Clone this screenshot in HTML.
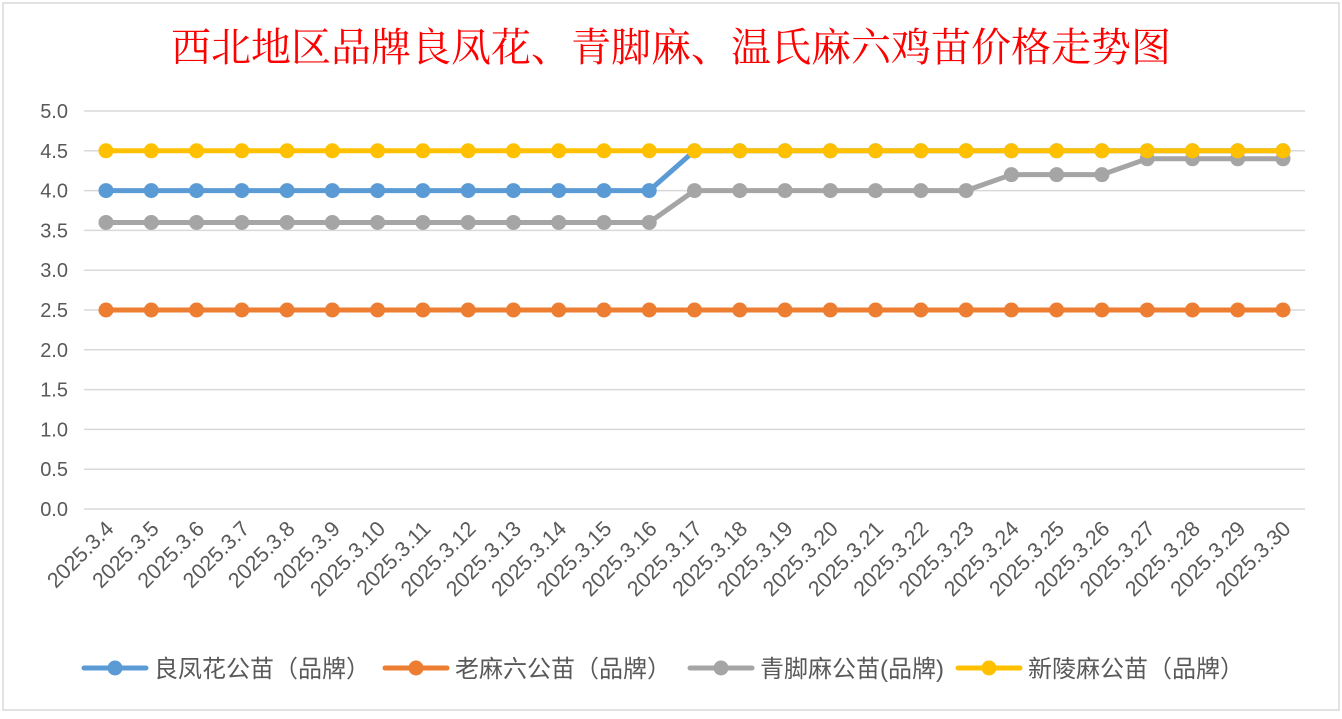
<!DOCTYPE html>
<html><head><meta charset="utf-8"><style>
body{margin:0;background:#fff;}
svg text{font-family:"Liberation Sans","Noto Sans CJK SC",sans-serif;fill:#595959;}
</style></head><body>
<svg width="1342" height="714" xmlns="http://www.w3.org/2000/svg">
<rect x="3" y="3" width="1336" height="707" fill="#fff" stroke="#d9d9d9" stroke-width="1.5"/>
<text x="671" y="61" text-anchor="middle" style="font-family:'Liberation Serif','Noto Serif CJK SC',serif;font-size:40px;fill:#ff0000">西北地区品牌良凤花、青脚麻、温氏麻六鸡苗价格走势图</text>
<g id="grid"></g><g id="yt"></g><g id="xt"></g><g id="series"></g><g id="legend"></g>
</svg>
<script>
const categories=["2025.3.4","2025.3.5","2025.3.6","2025.3.7","2025.3.8","2025.3.9","2025.3.10","2025.3.11","2025.3.12","2025.3.13","2025.3.14","2025.3.15","2025.3.16","2025.3.17","2025.3.18","2025.3.19","2025.3.20","2025.3.21","2025.3.22","2025.3.23","2025.3.24","2025.3.25","2025.3.26","2025.3.27","2025.3.28","2025.3.29","2025.3.30"];
const liangfenghua=[4,4,4,4,4,4,4,4,4,4,4,4,4,4.5,4.5,4.5,4.5,4.5,4.5,4.5,4.5,4.5,4.5,4.5,4.5,4.5,4.5];
const laomaliu=[2.5,2.5,2.5,2.5,2.5,2.5,2.5,2.5,2.5,2.5,2.5,2.5,2.5,2.5,2.5,2.5,2.5,2.5,2.5,2.5,2.5,2.5,2.5,2.5,2.5,2.5,2.5];
const qingjiaoma=[3.6,3.6,3.6,3.6,3.6,3.6,3.6,3.6,3.6,3.6,3.6,3.6,3.6,4,4,4,4,4,4,4,4.2,4.2,4.2,4.4,4.4,4.4,4.4];
const xinlingma=[4.5,4.5,4.5,4.5,4.5,4.5,4.5,4.5,4.5,4.5,4.5,4.5,4.5,4.5,4.5,4.5,4.5,4.5,4.5,4.5,4.5,4.5,4.5,4.5,4.5,4.5,4.5];
const yTicks=["0.0","0.5","1.0","1.5","2.0","2.5","3.0","3.5","4.0","4.5","5.0"];
const seriesNames=["良凤花公苗（品牌）","老麻六公苗（品牌）","青脚麻公苗(品牌)","新陵麻公苗（品牌）"];
const NS="http://www.w3.org/2000/svg";
const X0=106,X1=1283,Y0=509,Y1=111,YMAX=5;
const xs=i=>X0+(X1-X0)*i/(categories.length-1);
const ys=v=>Y0-(Y0-Y1)*v/YMAX;
function mk(tag,attrs,parent){const e=document.createElementNS(NS,tag);for(const k in attrs)e.setAttribute(k,attrs[k]);parent.appendChild(e);return e;}
const grid=document.getElementById('grid'),yt=document.getElementById('yt'),xt=document.getElementById('xt'),sg=document.getElementById('series'),lg=document.getElementById('legend');
yTicks.forEach(t=>{const v=parseFloat(t);
 const l=mk('line',{x1:84,x2:1305,y1:ys(v),y2:ys(v),stroke:'#d9d9d9','stroke-width':1.5},grid);
 
 
 const tx=mk('text',{x:68,y:ys(v)+7,'text-anchor':'end','font-size':20},yt);tx.textContent=t;
 
 
});
categories.forEach((c,i)=>{const x=xs(i)+9,y=530;
 const tx=mk('text',{x:x,y:y,'text-anchor':'end','font-size':21.5,transform:`rotate(-45 ${x} ${y})`},xt);tx.textContent=c;
 
 
});
const all=[[liangfenghua,'#5b9bd5'],[laomaliu,'#ed7d31'],[qingjiaoma,'#a5a5a5'],[xinlingma,'#ffc000']];
all.forEach(([d,col],si)=>{const g=mk('g',{},sg);
 
 
 const p=mk('polyline',{points:d.map((v,i)=>xs(i)+','+ys(v)).join(' '),fill:'none',stroke:col,'stroke-width':5,'stroke-linejoin':'round'},g);
 
 
 d.forEach((v,i)=>{const c=mk('circle',{cx:xs(i),cy:ys(v),r:7.5,fill:col},g);
  
  });
});
const lx=[84,385,690,958];
seriesNames.forEach((n,i)=>{const g=mk('g',{},lg);
 
 
 const x=lx[i],col=all[i][1];
 mk('line',{x1:x,x2:x+62,y1:668,y2:668,stroke:col,'stroke-width':5,'stroke-linecap':'round'},g);
 mk('circle',{cx:x+31,cy:668,r:7.5,fill:col},g);
 const t=mk('text',{x:x+70,y:677,'font-size':24},g);t.textContent=n;
});
</script>
</body></html>
